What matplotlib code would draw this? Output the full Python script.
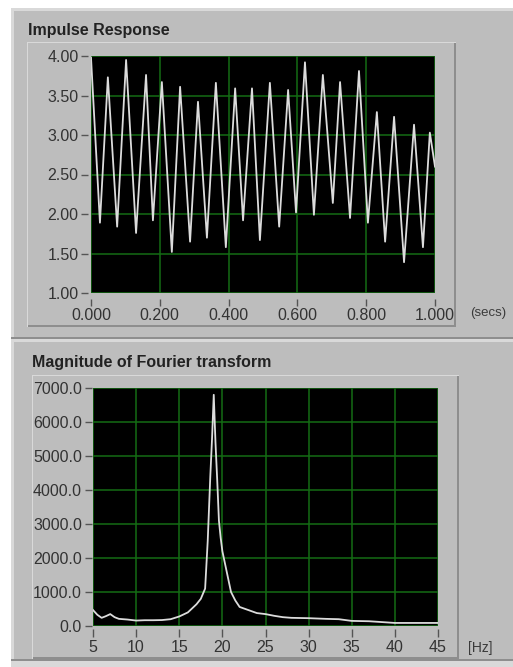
import numpy as np
import matplotlib.pyplot as plt
from matplotlib.patches import Rectangle

plt.rcParams['font.family'] = ['Liberation Sans', 'DejaVu Sans']

# impulse response, peaks and troughs (secs, value)
peak_t = [0.000, 0.049, 0.102, 0.160, 0.206, 0.259, 0.311, 0.363, 0.419, 0.468,
          0.520, 0.573, 0.622, 0.674, 0.724, 0.779, 0.831, 0.881, 0.939, 0.985]
peak_v = [3.98, 3.73, 3.95, 3.76, 3.67, 3.61, 3.42, 3.66, 3.59, 3.59,
          3.66, 3.57, 3.92, 3.76, 3.67, 3.81, 3.29, 3.23, 3.13, 3.03]
trough_t = [0.026, 0.076, 0.131, 0.180, 0.235, 0.288, 0.337, 0.392, 0.442, 0.491,
            0.547, 0.596, 0.648, 0.703, 0.753, 0.805, 0.855, 0.910, 0.965, 1.000]
trough_v = [1.89, 1.84, 1.76, 1.92, 1.52, 1.65, 1.70, 1.58, 1.92, 1.67,
            1.84, 2.02, 1.99, 2.14, 1.95, 1.89, 1.65, 1.39, 1.58, 2.60]

# magnitude of fourier transform
freq_hz = [5, 5.5, 6, 6.5, 7, 7.5, 8, 9, 10, 11, 12, 13, 14, 15, 16, 17, 17.5, 18,
           18.3, 18.6, 18.8, 19.0, 19.2, 19.4, 19.6, 19.8, 20, 20.5, 21, 21.5, 22,
           23, 24, 25, 26, 27, 28, 30, 32, 33.5, 35, 37, 38.5, 40, 42, 45]
magnitude = [470, 330, 240, 290, 350, 260, 210, 190, 160, 170, 170, 175, 200, 280,
             400, 640, 800, 1100, 2500, 4400, 5500, 6800, 5400, 4300, 3100, 2600,
             2200, 1600, 1000, 750, 560, 470, 380, 350, 300, 260, 240, 230, 210,
             200, 150, 140, 115, 90, 90, 90]

top_yticks = [1.0, 1.5, 2.0, 2.5, 3.0, 3.5, 4.0]
top_xticks = [0.0, 0.2, 0.4, 0.6, 0.8, 1.0]
bot_yticks = [0, 1000, 2000, 3000, 4000, 5000, 6000, 7000]
bot_xticks = [5, 10, 15, 20, 25, 30, 35, 40, 45]

W, H = 513, 667
fig = plt.figure(figsize=(W / 100, H / 100), dpi=100, facecolor='white')

def box(x0, y0, x1, y1, fc, z=-10):
    fig.add_artist(Rectangle((x0 / W, 1 - y1 / H), (x1 - x0) / W, (y1 - y0) / H,
                             transform=fig.transFigure, facecolor=fc,
                             edgecolor='none', zorder=z))

gray = '#bdbdbd'
light = '#d9d9d9'
dark = '#8e8e8e'

# outer panels
box(11, 8, W, H, light)
box(14, 11, W, 337, gray)
box(11, 337, W, 339, dark)
box(11, 339, W, 342, light)
box(14, 342, W, 659, gray)
box(11, 659, W, 661, dark)
box(11, 661, W, H, light)

# inner frames round the graphs
box(27, 42, 456, 327, light, z=-9)
box(28, 43, 456, 327, dark, z=-9)
box(28, 43, 454, 325, gray, z=-8)
box(32, 375, 459, 659, light, z=-9)
box(33, 376, 459, 659, dark, z=-9)
box(33, 376, 457, 657, gray, z=-8)

fig.text(28 / W, 1 - 30 / H, 'Impulse Response', fontsize=11.5, fontweight='bold',
         color='#222222', va='center', ha='left')
fig.text(32 / W, 1 - 362 / H, 'Magnitude of Fourier transform', fontsize=11.5,
         fontweight='bold', color='#222222', va='center', ha='left')
fig.text(470 / W, 1 - 313 / H, '(secs)', fontsize=9.5, color='#3a3a3a',
         va='center', ha='left')
fig.text(468 / W, 1 - 648 / H, '[Hz]', fontsize=10, color='#3a3a3a',
         va='center', ha='left')

def style(ax, xout, yout, xlen, ylen):
    ax.set_facecolor('black')
    for s in ax.spines.values():
        s.set_visible(False)
    ax.spines['left'].set_position(('outward', yout))
    ax.spines['bottom'].set_position(('outward', xout))
    ax.grid(True, color='#146c14', linewidth=1.1)
    ax.set_axisbelow(True)
    ax.tick_params(axis='x', direction='out', length=xlen, width=1, color='#555555',
                   labelsize=11.5, labelcolor='#333333', pad=2)
    ax.tick_params(axis='y', direction='out', length=ylen, width=1, color='#555555',
                   labelsize=11.5, labelcolor='#333333', pad=2)

# top graph
ax1 = fig.add_axes([91 / W, 1 - 293 / H, 344 / W, 237 / H])
order = np.argsort(peak_t + trough_t)
t_all = np.array(peak_t + trough_t)[order]
v_all = np.array(peak_v + trough_v)[order]
ax1.plot(t_all, v_all, color='#dcdcdc', linewidth=1.3)
ax1.set_xlim(0, 1)
ax1.set_ylim(1, 4)
ax1.set_xticks(top_xticks)
ax1.set_xticklabels(['%.3f' % v for v in top_xticks])
ax1.set_yticks(top_yticks)
ax1.set_yticklabels(['%.2f' % v for v in top_yticks])
style(ax1, 4, 2, 5, 5)

# bottom graph
ax2 = fig.add_axes([93 / W, 1 - 626 / H, 345 / W, 238 / H])
ax2.plot(freq_hz, magnitude, color='#dcdcdc', linewidth=1.3)
ax2.set_xlim(5, 45)
ax2.set_ylim(0, 7000)
ax2.set_xticks(bot_xticks)
ax2.set_yticks(bot_yticks)
ax2.set_yticklabels(['%.1f' % v for v in bot_yticks])
style(ax2, 2, 1, 6, 5)

fig.savefig('out.png', dpi=100, facecolor='white')
